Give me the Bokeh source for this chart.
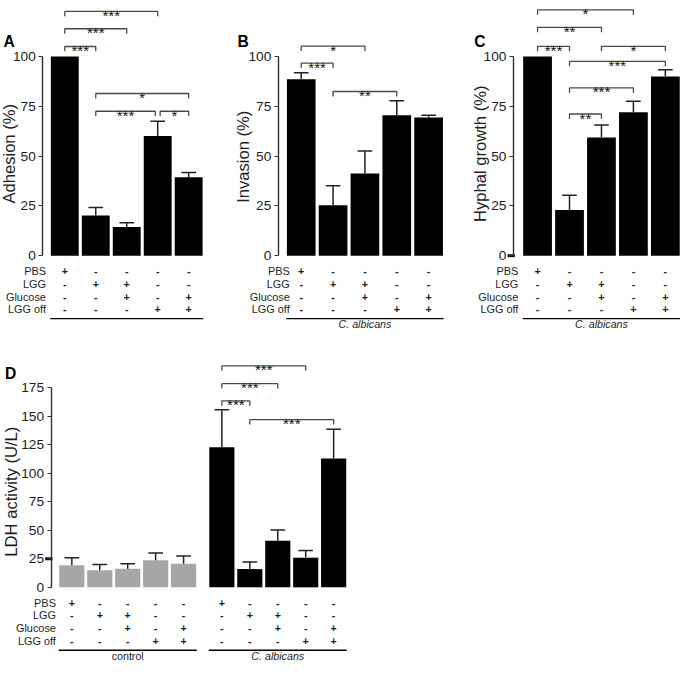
from bokeh.plotting import figure
from bokeh.models import Range1d, LinearAxis, FixedTicker
from bokeh.core.properties import value
from bokeh.embed import file_html
from bokeh.resources import INLINE
import math

# ---------------- data ----------------
row_labels = ["PBS", "LGG", "Glucose", "LGG off"]
row_pbs = ["+", "-", "-", "-", "-"]
row_lgg = ["-", "+", "+", "-", "-"]
row_glucose = ["-", "-", "+", "-", "+"]
row_lgg_off = ["-", "-", "-", "+", "+"]
row_signs = [row_pbs, row_lgg, row_glucose, row_lgg_off]

adhesion = [100.0, 20.1, 14.4, 60.1, 39.4]
adhesion_err = [0.0, 4.1, 2.1, 7.4, 2.4]
invasion = [88.6, 25.3, 41.3, 70.5, 69.3]
invasion_err = [3.2, 9.8, 11.2, 7.3, 1.2]
hyphal = [100.0, 22.9, 59.3, 72.0, 89.9]
hyphal_err = [0.0, 7.4, 6.3, 5.5, 3.4]
ldh_control = [19.4, 15.1, 16.3, 23.7, 20.8]
ldh_control_err = [6.6, 4.9, 4.5, 6.5, 6.6]
ldh_albicans = [122.8, 16.0, 40.8, 26.0, 113.0]
ldh_albicans_err = [33.1, 6.3, 9.5, 6.3, 25.7]

pct_ticks = [0, 25, 50, 75, 100]
ldh_ticks = [0, 25, 50, 75, 100, 125, 150, 175]

# significance brackets: (from bar, to bar, label, height in data units)
adhesion_sig = [(1, 4, "***", 122.6), (1, 3, "***", 113.9), (1, 2, "***", 105.0),
                (2, 5, "*", 81.4), (2, 4, "***", 72.5), (4, 5, "*", 72.5)]
invasion_sig = [(1, 3, "*", 105.2), (1, 2, "***", 96.6), (2, 4, "**", 82.4)]
hyphal_sig = [(1, 4, "*", 123.4), (1, 3, "**", 114.6), (1, 2, "***", 105.1),
              (3, 5, "*", 105.1), (2, 5, "***", 97.5), (2, 4, "***", 84.2),
              (2, 3, "**", 71.1)]
ldh_albicans_sig = [(1, 4, "***", 194.2), (1, 3, "***", 178.7),
                    (1, 2, "***", 163.6), (2, 5, "***", 147.1)]

# ---------------- layout (reference pixel frame) ----------------
REF_W, REF_H = 696, 679
W, H = 680, 663
FS = W / REF_W
FONT = "Liberation Sans"
TXT = "#1e1e1e"
BLACK = "#000000"
GRAY = "#a6a6a6"
ROW_OFF = [15.7, 28.7, 41.9, 55.0]


def px(v):
    return "%.1fpx" % (v * FS)


p = figure(width=W, height=H, x_range=Range1d(0, REF_W), y_range=Range1d(REF_H, 0),
           x_axis_type=None, y_axis_type=None, toolbar_location=None,
           output_backend="svg", min_border=0, outline_line_color=None)
p.background_fill_color = "white"
p.border_fill_color = "white"


def panel(name, x0, pitch, y0, k, axis_x, ticks, groups, sig, label_right,
          title, title_xy, letter, letter_xy, group_labels=None, thick_tick=None):
    xn, yn = name + "x", name + "y"
    p.extra_x_ranges[xn] = Range1d((0 - x0) / pitch, (REF_W - x0) / pitch)
    p.extra_y_ranges[yn] = Range1d((y0 - REF_H) / k, y0 / k)
    kw = dict(x_range_name=xn, y_range_name=yn)
    dy = lambda pixels: pixels / k
    ax_loc = (axis_x - x0) / pitch

    all_pos = []
    for (start, vals, errs, color) in groups:
        pos = [start + i for i in range(len(vals))]
        all_pos.append(pos)
        p.vbar(x=pos, top=vals, bottom=0, width=0.9, fill_color=color,
               line_color=None, **kw)
        ex = [x for x, e in zip(pos, errs) if e > 0]
        ey = [v for v, e in zip(vals, errs) if e > 0]
        et = [v + e for v, e in zip(vals, errs) if e > 0]
        cap = 7.5 / pitch
        p.segment(x0=ex, y0=ey, x1=ex, y1=et, line_color="#222222", line_width=1.5, **kw)
        p.segment(x0=[x - cap for x in ex], y0=et, x1=[x + cap for x in ex], y1=et,
                  line_color="#222222", line_width=1.5, **kw)
        # table of conditions
        for r, signs in enumerate(row_signs):
            p.text(x=pos, y=[-dy(ROW_OFF[r])] * len(pos), text=signs,
                   text_font=value(FONT), text_font_size=px(11), text_font_style="bold",
                   text_align="center", text_baseline="middle", text_color=TXT, **kw)
        p.segment(x0=[pos[0] - 0.47], y0=[-dy(64.5)], x1=[pos[-1] + 0.47], y1=[-dy(64.5)],
                  line_color=BLACK, line_width=1.4, **kw)

    lx = (label_right - x0) / pitch
    p.text(x=[lx] * 4, y=[-dy(o) for o in ROW_OFF], text=row_labels,
           text_font=value(FONT), text_font_size=px(11.2), text_align="right",
           text_baseline="middle", text_color=TXT, **kw)

    if group_labels:
        for pos, (lab, style) in zip(all_pos, group_labels):
            p.text(x=[sum(pos) / len(pos)], y=[-dy(70.5)], text=[lab],
                   text_font=value(FONT), text_font_size=px(11), text_font_style=style,
                   text_align="center", text_baseline="middle", text_color=TXT, **kw)

    # significance brackets (on last group)
    pos = all_pos[-1]
    ends = {}
    for (i, j, lab, lev) in sig:
        ends.setdefault(lev, []).append((i, j))
    inset = 2.5 / pitch
    for (i, j, lab, lev) in sig:
        xa, xb = pos[i - 1], pos[j - 1]
        others = [e for e in ends[lev] if e != (i, j)]
        if any(o[1] == i for o in others):
            xa += inset
        if any(o[0] == j for o in others):
            xb -= inset
        t = dy(5)
        p.multi_line(xs=[[xa, xa, xb, xb]], ys=[[lev - t, lev, lev, lev - t]],
                     line_color="#4a4a4a", line_width=1.3, **kw)
        p.text(x=[(xa + xb) / 2], y=[lev], text=[lab], y_offset=4,
               text_font=value(FONT), text_font_size=px(15.5), text_align="center",
               text_baseline="alphabetic", text_color="#111111", **kw)

    ax = LinearAxis(fixed_location=ax_loc, bounds=(ticks[0], ticks[-1]),
                    ticker=FixedTicker(ticks=ticks), **kw)
    ax.axis_line_color = "#333333"
    ax.axis_line_width = 1.4
    ax.major_tick_line_color = "#333333"
    ax.major_tick_line_width = 1.2
    ax.major_tick_out = 4
    ax.major_tick_in = 0
    ax.minor_tick_line_color = None
    ax.major_label_standoff = 3
    ax.major_label_text_font = FONT
    ax.major_label_text_font_size = px(14)
    ax.major_label_text_color = TXT
    p.add_layout(ax, "left")

    if thick_tick is not None:
        p.segment(x0=[ax_loc - 6 / pitch], y0=[thick_tick], x1=[ax_loc + 1.5 / pitch],
                  y1=[thick_tick], line_color="#111111", line_width=3, **kw)

    # axis title and panel letter (reference pixel frame)
    p.text(x=[title_xy[0]], y=[title_xy[1]], text=[title], angle=math.pi / 2,
           text_font=value(FONT), text_font_size=px(17), text_align="center",
           text_baseline="middle", text_color=TXT)
    p.text(x=[letter_xy[0]], y=[letter_xy[1]], text=[letter],
           text_font=value(FONT), text_font_size=px(16), text_font_style="bold",
           text_align="left", text_baseline="alphabetic", text_color=BLACK)


panel("A", 34.1, 31.7, 261.3, 2.04, 43.3, pct_ticks,
      [(1, adhesion, adhesion_err, BLACK)], adhesion_sig, 46.5,
      "Adhesion (%)", (9.5, 157), "A", (3, 42))
panel("B", 275.2, 32.6, 261.3, 2.04, 284.3, pct_ticks,
      [(1, invasion, invasion_err, BLACK)], invasion_sig, 296,
      "Invasion (%)", (249, 160), "B", (242.5, 42),
      group_labels=[("C. albicans", "italic")])
panel("C", 517.0, 32.7, 261.3, 2.04, 525.0, pct_ticks,
      [(1, hyphal, hyphal_err, BLACK)], hyphal_sig, 530,
      "Hyphal growth (%)", (491, 157), "C", (485, 42),
      group_labels=[("C. albicans", "italic")], thick_tick=0)
panel("D", 44.4, 28.6, 601.0, 1.1674, 51.7, ldh_ticks,
      [(1, ldh_control, ldh_control_err, GRAY),
       (6.37, ldh_albicans, ldh_albicans_err, BLACK)], ldh_albicans_sig, 56.7,
      "LDH activity (U/L)", (11.7, 503), "D", (4.5, 381.5),
      group_labels=[("control", "normal"), ("C. albicans", "italic")], thick_tick=25)

open("out.html", "w").write(file_html(p, INLINE))
